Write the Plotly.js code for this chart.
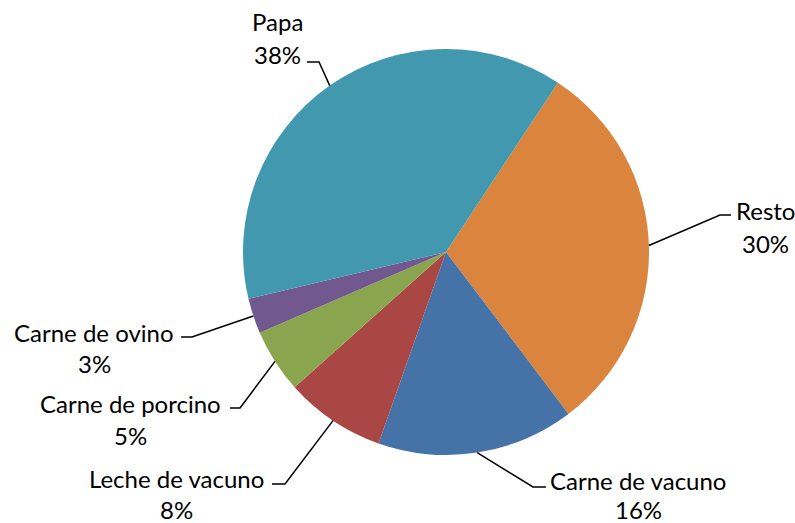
<!DOCTYPE html>
<html>
<head>
<meta charset="utf-8">
<script src="https://cdn.plot.ly/plotly-3.0.1.min.js"></script>
<style>html,body{margin:0;padding:0;background:#fff;}#chart{width:795px;height:523px;}</style>
</head>
<body>
<div id="chart"></div>
<script>
// ---- data ----
const categories = ['Resto', 'Carne de vacuno', 'Leche de vacuno', 'Carne de porcino', 'Carne de ovino', 'Papa'];
const shares = [30.4, 15.7, 8.0, 5.1, 2.8, 38.0];
const sliceColors = ['#DB843D', '#4572A7', '#AA4643', '#89A54E', '#71588F', '#4198AF'];

// ---- layout config (pixels) ----
const W = 795, H = 523;
const pieBox = {left: 243, right: 649, top: 49, bottom: 455};
const startAngle = 33.46; // degrees clockwise from 12 o'clock
// label placement: name centre, percent centre, leader elbow, end of horizontal stub
const labelPlace = [
  {nx: 765, ny: 210, py: 243, ex: 720, ey: 215, hx: 731},
  {nx: 638, ny: 480, py: 509, ex: 533, ey: 487, hx: 546},
  {nx: 176, ny: 478, py: 509, ex: 285, ey: 484, hx: 272},
  {nx: 130, ny: 403, py: 435, ex: 240, ey: 408, hx: 230},
  {nx: 94,  ny: 332, py: 363, ex: 192, ey: 337, hx: 181},
  {nx: 277, ny: 22,  py: 55,  ex: 319, ey: 62,  hx: 307}
];

const px = x => x / W;
const py = y => 1 - y / H;

const total = shares.reduce((a, b) => a + b, 0);
const cx = (pieBox.left + pieBox.right) / 2;
const cy = (pieBox.top + pieBox.bottom) / 2;
const r = Math.min(pieBox.right - pieBox.left, pieBox.bottom - pieBox.top) / 2;

const font = {family: 'Lato, "Noto Sans", sans-serif', size: 24, color: '#000'};
const annotations = [];
const shapes = [];
let acc = startAngle;
shares.forEach((v, i) => {
  const span = v / total * 360;
  const mid = (acc + span / 2) * Math.PI / 180;
  acc += span;
  const sx = cx + r * Math.sin(mid);
  const sy = cy - r * Math.cos(mid);
  const L = labelPlace[i];
  const pct = Math.round(v / total * 100) + '%';
  annotations.push({xref: 'paper', yref: 'paper', x: px(L.nx), y: py(L.ny), text: categories[i],
    showarrow: false, xanchor: 'center', yanchor: 'middle', font: font});
  annotations.push({xref: 'paper', yref: 'paper', x: px(L.nx), y: py(L.py), text: pct,
    showarrow: false, xanchor: 'center', yanchor: 'middle', font: font});
  shapes.push({type: 'path', xref: 'paper', yref: 'paper',
    path: `M ${px(sx)},${py(sy)} L ${px(L.ex)},${py(L.ey)} L ${px(L.hx)},${py(L.ey)}`,
    line: {color: '#000', width: 1.5}});
});

const trace = {
  type: 'pie',
  labels: categories,
  values: shares,
  sort: false,
  direction: 'clockwise',
  rotation: startAngle,
  textinfo: 'none',
  hoverinfo: 'label+percent',
  marker: {colors: sliceColors, line: {width: 0}},
  domain: {x: [px(pieBox.left), px(pieBox.right)], y: [py(pieBox.bottom), py(pieBox.top)]}
};

Plotly.newPlot('chart', [trace], {
  width: W, height: H,
  margin: {l: 0, r: 0, t: 0, b: 0},
  showlegend: false,
  paper_bgcolor: '#fff',
  annotations: annotations,
  shapes: shapes
}, {displayModeBar: false, staticPlot: true});
</script>
</body>
</html>
